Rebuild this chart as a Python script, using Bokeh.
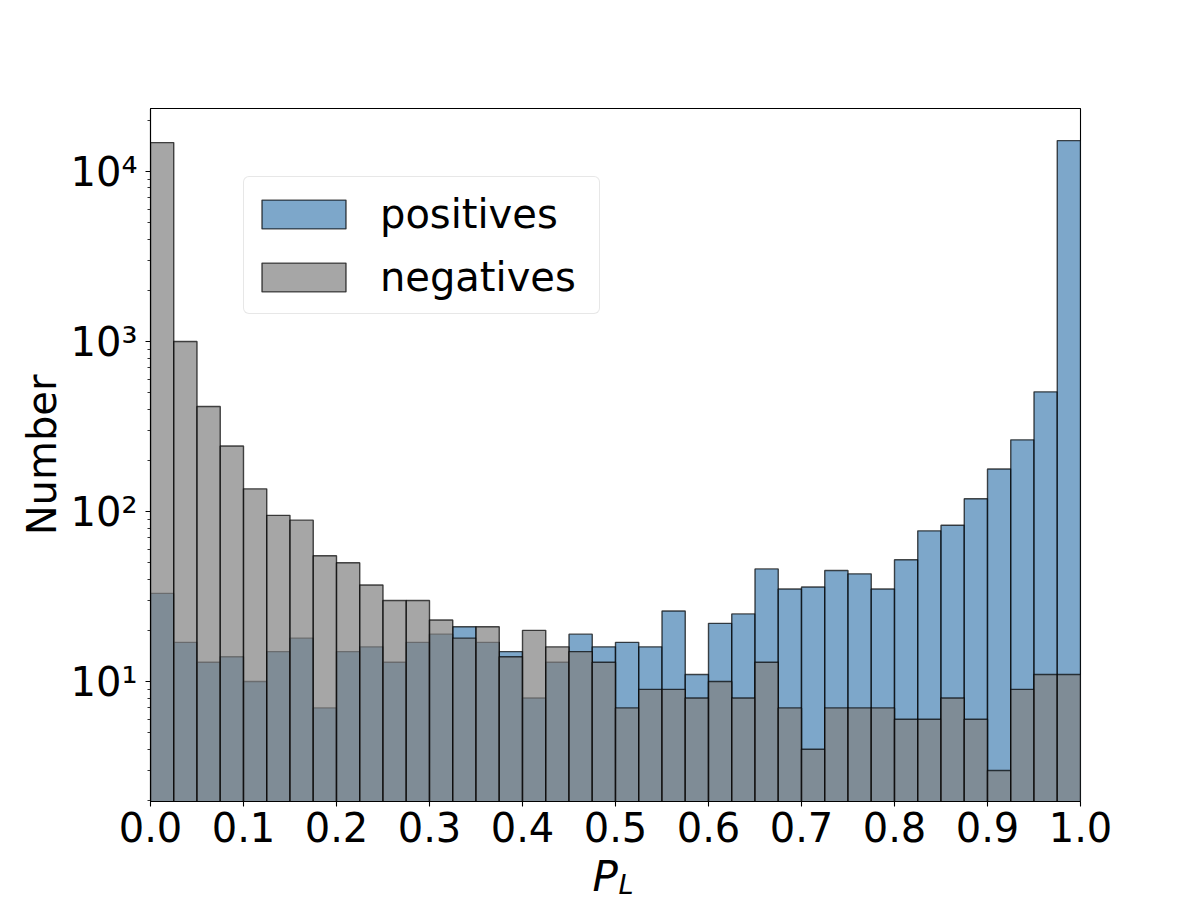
import numpy as np
from bokeh.plotting import figure
from bokeh.models import (Range1d, FixedTicker, PrintfTickFormatter, Legend,
                          LegendItem, Label)
from bokeh.embed import file_html
from bokeh.resources import INLINE

# ---- data (40 bins on [0, 1]) ----
bin_width = 0.025
positives = [33, 17, 13, 14, 10, 15, 18, 7, 15, 16,
             13, 17, 19, 21, 17, 15, 8, 13, 19, 16,
             17, 16, 26, 11, 22, 25, 46, 35, 36, 45,
             43, 35, 52, 77, 83, 119, 178, 264, 506, 15200]
negatives = [14800, 1000, 415, 243, 136, 95, 89, 55, 50, 37,
             30, 30, 23, 18, 21, 14, 20, 16, 15, 13,
             7, 9, 9, 8, 10, 8, 13, 7, 4, 7,
             7, 7, 6, 6, 8, 6, 3, 9, 11, 11]
series_names = ["positives", "negatives"]
x_ticks = [0.0, 0.1, 0.2, 0.3, 0.4, 0.5, 0.6, 0.7, 0.8, 0.9, 1.0]
y_ticks = [10, 100, 1000, 10000]
y_tick_labels = ["10¹", "10²", "10³", "10⁴"]
y_minor = [2, 3, 4, 5, 6, 7, 8, 9,
           20, 30, 40, 50, 60, 70, 80, 90,
           200, 300, 400, 500, 600, 700, 800, 900,
           2000, 3000, 4000, 5000, 6000, 7000, 8000, 9000, 20000]

FONT = "DejaVu Sans"

left = np.arange(len(positives)) * bin_width
right = left + bin_width

p = figure(width=1200, height=900, y_axis_type="log", title=None,
           x_range=Range1d(0, 1), y_range=Range1d(1.97, 23480),
           output_backend="svg", toolbar_location=None,
           min_border_left=150, min_border_right=120,
           min_border_top=108, min_border_bottom=99)

p.background_fill_color = "white"
p.border_fill_color = "white"
p.outline_line_color = "black"
p.outline_line_width = 1.1
p.xgrid.visible = False
p.ygrid.visible = False

r_pos = p.quad(left=left, right=right, bottom=1, top=positives,
               fill_color="steelblue", fill_alpha=0.7,
               line_color="black", line_alpha=0.7, line_width=1.4)
r_neg = p.quad(left=left, right=right, bottom=1, top=negatives,
               fill_color="gray", fill_alpha=0.7,
               line_color="black", line_alpha=0.7, line_width=1.4)

# axes
p.xaxis.ticker = FixedTicker(ticks=x_ticks)
p.xaxis.formatter = PrintfTickFormatter(format="%.1f")
p.yaxis.ticker = FixedTicker(ticks=y_ticks, minor_ticks=y_minor)
p.yaxis.major_label_overrides = {t: l for t, l in zip(y_ticks, y_tick_labels)}

for ax in (p.xaxis[0], p.yaxis[0]):
    ax.major_label_text_font = FONT
    ax.major_label_text_font_size = "40px"
    ax.major_label_text_color = "black"
    ax.axis_line_color = "black"
    ax.axis_line_width = 1.1
    ax.major_tick_in = 0
    ax.major_tick_out = 5
    ax.minor_tick_in = 0
    ax.minor_tick_out = 3
    ax.major_tick_line_color = "black"
    ax.minor_tick_line_color = "black"
    ax.major_tick_line_width = 1.1
    ax.minor_tick_line_width = 0.8

p.xaxis.minor_tick_out = 0
p.xaxis.major_label_standoff = 5
p.yaxis.major_label_standoff = 8
p.yaxis.axis_label = "Number"
p.yaxis.axis_label_text_font = FONT
p.yaxis.axis_label_text_font_size = "40px"
p.yaxis.axis_label_text_font_style = "normal"
p.yaxis.axis_label_text_color = "black"
p.yaxis.axis_label_standoff = 3

# x axis label  P_L : placed in side panels (not clipped to the frame)
# "P": right panel -> x from frame right edge, y up from frame bottom
p.add_layout(Label(x=-488, y=-75, x_units="screen", y_units="screen",
                   text="P", text_font=FONT, text_font_style="italic",
                   text_font_size="42px", text_baseline="middle",
                   text_align="left", text_color="black"), "right")
# "L" subscript: above panel -> x from frame left edge, y up from frame top
p.add_layout(Label(x=468, y=-776, x_units="screen", y_units="screen",
                   text="L", text_font=FONT, text_font_style="italic",
                   text_font_size="27px", text_baseline="middle",
                   text_align="left", text_color="black"), "above")

legend = Legend(items=[LegendItem(label=series_names[0], renderers=[r_pos]),
                       LegendItem(label=series_names[1], renderers=[r_neg])],
                location=(93, 487), margin=0)
legend.glyph_width = 105
legend.glyph_height = 36
legend.label_height = 59
legend.label_width = 212
legend.label_standoff = 24
legend.spacing = 4
legend.padding = 7
legend.label_text_font = FONT
legend.label_text_font_size = "40px"
legend.label_text_color = "black"
legend.border_line_color = "#d0d0d0"
legend.border_line_width = 1.2
legend.background_fill_color = "white"
legend.background_fill_alpha = 0.8
if "border_radius" in Legend.properties():
    legend.border_radius = 6
p.add_layout(legend, "center")

open("out.html", "w").write(file_html(p, INLINE))
